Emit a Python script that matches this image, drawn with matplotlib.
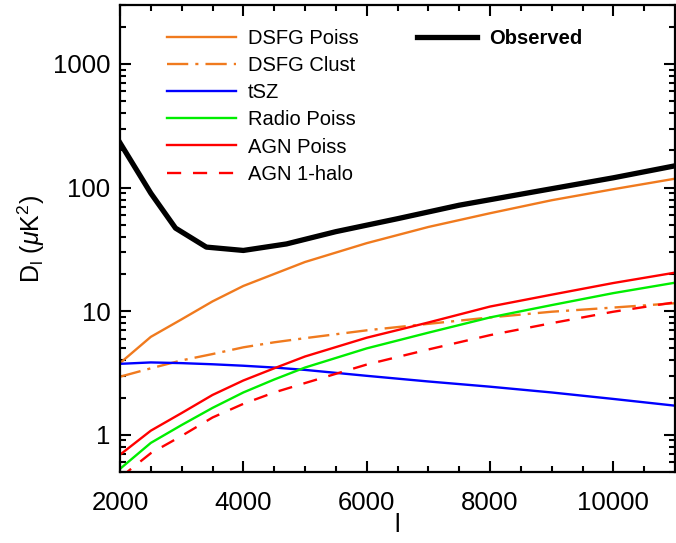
import matplotlib
matplotlib.use("Agg")
from matplotlib import pyplot as plt
from matplotlib.ticker import FixedLocator, LogLocator, NullFormatter, FixedFormatter

plt.rcParams['font.family'] = ['Liberation Sans', 'DejaVu Sans']
plt.rcParams['mathtext.fontset'] = 'custom'
plt.rcParams['mathtext.rm'] = 'Liberation Sans'
plt.rcParams['mathtext.it'] = 'Liberation Sans:italic'

# multipole grid
ell = [2000, 2500, 3000, 3500, 4000, 4500, 5000, 6000, 7000, 8000, 9000, 10000, 11000]

dsfg_poiss = [3.8, 6.2, 8.6, 12.0, 16.0, 20.0, 25.0, 35.5, 48.0, 62.0, 79.0, 97.0, 118.0]
dsfg_clust = [2.95, 3.45, 4.0, 4.5, 5.1, 5.6, 6.05, 7.0, 7.9, 8.9, 9.9, 10.7, 11.6]
tsz = [3.75, 3.85, 3.8, 3.72, 3.62, 3.5, 3.35, 3.0, 2.7, 2.45, 2.2, 1.95, 1.72]
radio_poiss = [0.53, 0.86, 1.2, 1.65, 2.2, 2.8, 3.5, 5.0, 6.7, 8.9, 11.2, 14.0, 17.0]
agn_poiss = [0.69, 1.08, 1.5, 2.1, 2.75, 3.45, 4.3, 6.1, 8.1, 10.9, 13.6, 16.9, 20.5]
agn_1halo = [0.45, 0.71, 0.98, 1.38, 1.78, 2.2, 2.62, 3.7, 4.9, 6.4, 8.0, 9.9, 11.8]

# observed total (band powers)
ell_obs = [2000, 2500, 2900, 3400, 4000, 4700, 5500, 6500, 7500, 8800, 10000, 11000]
observed = [230, 90, 47, 33, 31, 35, 44, 56, 72, 94, 120, 150]

orange = '#f07a1e'

fig = plt.figure(figsize=(6.76, 5.43), dpi=100)
ax = fig.add_axes([120 / 676, 1 - 472 / 543, 555 / 676, 467 / 543])

lw = 1.7
l1, = ax.plot(ell, dsfg_poiss, color=orange, lw=lw, label='DSFG Poiss')
l2, = ax.plot(ell, dsfg_clust, color=orange, lw=lw, dashes=(9, 3, 1.3, 3), label='DSFG Clust')
l3, = ax.plot(ell, tsz, color='#0000ff', lw=lw, label='tSZ')
l4, = ax.plot(ell, radio_poiss, color='#00ee00', lw=lw, label='Radio Poiss')
l5, = ax.plot(ell, agn_poiss, color='#ff0000', lw=lw, label='AGN Poiss')
l6, = ax.plot(ell, agn_1halo, color='#ff0000', lw=lw, dashes=(6, 5), label='AGN 1-halo')
lo, = ax.plot(ell_obs, observed, color='black', lw=3.8, label='Observed')

ax.set_yscale('log')
ax.set_xlim(2000, 11000)
ax.set_ylim(0.5, 3000)

ax.xaxis.set_major_locator(FixedLocator([2000, 4000, 6000, 8000, 10000]))
ax.xaxis.set_minor_locator(FixedLocator(list(range(2500, 11000, 500))))
ax.yaxis.set_major_locator(FixedLocator([1, 10, 100, 1000]))
ax.yaxis.set_major_formatter(FixedFormatter(['1', '10', '100', '1000']))
ax.yaxis.set_minor_locator(LogLocator(base=10, subs=range(2, 10)))
ax.yaxis.set_minor_formatter(NullFormatter())

ax.tick_params(which='both', direction='in', top=True, right=True, width=1.5)
ax.tick_params(which='major', length=8, labelsize=18.5)
ax.tick_params(axis='x', which='major', pad=14)
ax.tick_params(axis='y', which='major', pad=7)
ax.tick_params(which='minor', length=4)
for s in ax.spines.values():
    s.set_linewidth(1.6)

ax.set_xlabel('l', fontsize=18, labelpad=-2)
ax.set_ylabel(r'D$_\mathrm{l}$ ($\mu$K$^2$)', fontsize=18, labelpad=4)

leg1 = ax.legend(handles=[l1, l2, l3, l4, l5, l6], loc='upper left',
                 bbox_to_anchor=(0.085, 0.948), frameon=False, fontsize=14.5,
                 handlelength=3.4, handletextpad=0.6, labelspacing=0.4,
                 borderpad=0, borderaxespad=0)
ax.add_artist(leg1)
leg2 = ax.legend(handles=[lo], loc='upper left', bbox_to_anchor=(0.535, 0.948),
                 frameon=False, handlelength=3.0, handletextpad=0.6,
                 borderpad=0, borderaxespad=0, prop={'weight': 'bold', 'size': 14.5})

fig.savefig('out.png', dpi=100)
